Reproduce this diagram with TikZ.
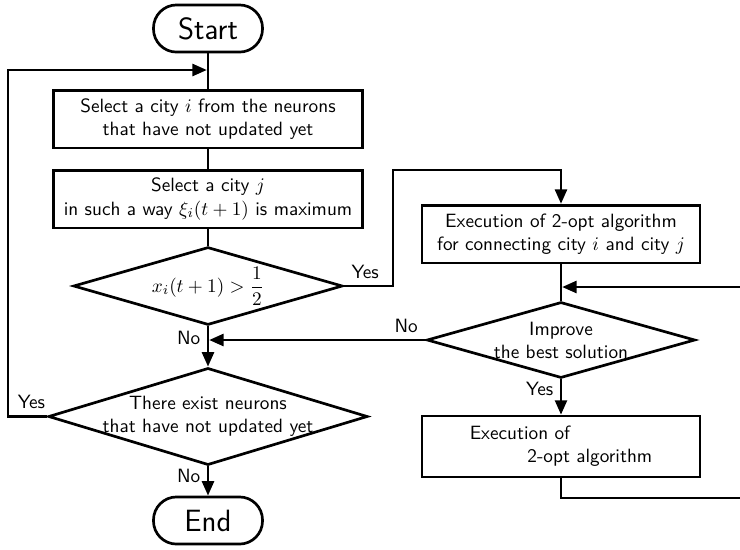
\documentclass[tikz,border=0pt]{standalone}
\usepackage{amsmath}
\usetikzlibrary{shapes,arrows.meta,calc,positioning}

\tikzstyle{process}=[rectangle,draw,line width=1.4pt,align=center,minimum width=161pt,minimum height=30pt,inner sep=2pt]
\tikzstyle{decision}=[diamond,draw,line width=1.4pt,align=center,shape aspect=3.4,inner xsep=-12pt,inner ysep=0pt]
\tikzstyle{terminal}=[rectangle,rounded corners=12pt,draw,line width=1.4pt,minimum width=56.7pt,minimum height=24.5pt,font=\sffamily\fontsize{16}{19}\selectfont]
\tikzstyle{flowline}=[line width=1.4pt]
\tikzstyle{flowedge}=[flowline,-{Triangle[length=7.5pt,width=6.2pt]}]

\begin{document}
\begin{tikzpicture}[x=0.52pt,y=-0.52pt,font=\sffamily]
\def\mainx{208}
\def\sidex{561}
\def\loopx{8}
\def\rightx{752}

\useasboundingbox (0,0) rectangle (740,549);

	% Main column
    \node[terminal] (start) at (\mainx,28.5) {Start};
    \node[process] (sel-i) at (\mainx,119) {Select a city $i$ from the neurons\\that have not updated yet};
    \node[process] (sel-j) at (\mainx,199) {Select a city $j$\\in such a way $\xi_i(t+1)$ is maximum};
    \node[decision, minimum width=140pt, minimum height=40.5pt] (half) at (\mainx,286) {$x_i(t+1) > \dfrac{1}{2}$};
    \node[decision, minimum width=166pt, minimum height=50.5pt] (exist) at (\mainx,416.5) {There exist neurons\\that have not updated yet};
    \node[terminal] (stop) at (\mainx,520.5) {End};

	% 2-opt column
    \node[process, minimum width=144.5pt] (opt-ij) at (\sidex,234) {Execution of 2-opt algorithm\\for connecting city $i$ and city $j$};
    \node[decision, minimum width=139.5pt, minimum height=39.5pt] (improve) at (\sidex,340) {Improve\\the best solution};
    \node[process, minimum width=144.5pt, minimum height=31.7pt, align=left] (opt) at (\sidex,446.5) {Execution of\\\hspace*{30pt}2-opt algorithm};

    \coordinate (yes-up) at (393,170);
    \coordinate (back-in) at (\rightx,287);
    \coordinate (back-out) at (\rightx,498);
    \coordinate (loop-top) at (\loopx,70);

	% Main column edges
    \draw[flowline] (start) -- (sel-i);
    \draw[flowline] (sel-i) -- (sel-j);
    \draw[flowline] (sel-j) -- (half);
    \draw[flowedge] (half) -- node[left, pos=0.3]{No} (exist);
    \draw[flowedge] (exist) -- node[left, pos=0.32]{No} (stop);
    \draw[flowedge, shorten >=0.6pt] (exist.west) -- node[above, pos=0.4]{Yes} (exist.west -| loop-top) -- (loop-top) -- (start.south |- loop-top);

	% Over to the 2-opt column and back
    \draw[flowedge] (half.east) node[above right]{Yes} -| (yes-up) -| (opt-ij.north);
    \draw[flowline] (opt-ij) -- (improve);
    \draw[flowedge, shorten >=0.6pt] (improve.west) node[above left]{No} -- (improve.west -| exist.north);
    \draw[flowedge] (improve) -- node[left, pos=0.26]{Yes} (opt);
    \draw[flowline] (opt.south) |- (back-out) -- (back-in);
    \draw[flowedge, shorten >=0.6pt] (back-in) -- (opt-ij.south |- back-in);

\end{tikzpicture}
\end{document}
